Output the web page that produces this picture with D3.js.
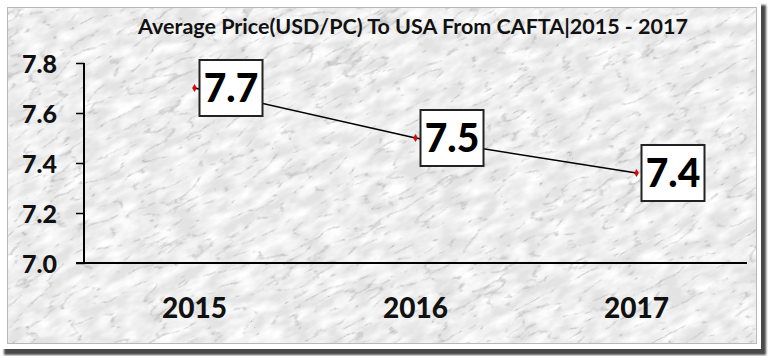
<!DOCTYPE html>
<html>
<head>
<meta charset="utf-8">
<script src="https://cdn.jsdelivr.net/npm/d3@7"></script>
<style>
html,body{margin:0;padding:0;background:#fff;}
svg{display:block;}
text{font-family:Lato,"Open Sans",sans-serif;}
</style>
</head>
<body>
<svg id="chart" width="768" height="356"></svg>
<script>
const years = ["2015", "2016", "2017"];
const prices = [7.7, 7.5, 7.36];
const yTicks = [7.0, 7.2, 7.4, 7.6, 7.8];
const title = "Average Price(USD/PC) To USA From CAFTA|2015 - 2017";

const svg = d3.select("#chart");
const defs = svg.append("defs");

// marble texture
const f = defs.append("filter").attr("id","marble")
  .attr("filterUnits","userSpaceOnUse")
  .attr("x",-300).attr("y",-400).attr("width",1400).attr("height",1200);
f.append("feTurbulence").attr("type","turbulence")
  .attr("baseFrequency","0.025 0.07").attr("numOctaves",5).attr("seed",11).attr("result","t");
f.append("feColorMatrix").attr("in","t").attr("type","matrix")
  .attr("values","0 0 0 0 0.38  0 0 0 0 0.38  0 0 0 0 0.41  -4.2 0 0 0 0.8").attr("result","veins");
f.append("feTurbulence").attr("type","fractalNoise")
  .attr("baseFrequency","0.04 0.09").attr("numOctaves",3).attr("seed",3).attr("result","n");
f.append("feColorMatrix").attr("in","n").attr("type","matrix")
  .attr("values","0 0 0 0 1  0 0 0 0 1  0 0 0 0 1  2.0 0 0 0 -0.6").attr("result","light");
f.append("feComposite").attr("in","light").attr("in2","SourceGraphic").attr("operator","over").attr("result","base");
f.append("feComposite").attr("in","veins").attr("in2","base").attr("operator","over");

const shadow = defs.append("filter").attr("id","sh").attr("x","-5%").attr("y","-5%").attr("width","110%").attr("height","110%");
shadow.append("feGaussianBlur").attr("stdDeviation",1.2);

defs.append("clipPath").attr("id","clipc").append("rect")
  .attr("x",8).attr("y",8).attr("width",748).attr("height",335);

// frame + shadow
svg.append("rect").attr("x",4).attr("y",5).attr("width",762).attr("height",350)
  .attr("fill","#4a4a4a").attr("filter","url(#sh)");
svg.append("rect").attr("x",0).attr("y",0).attr("width",761).attr("height",349).attr("fill","#fff");

// marble background
const bg = svg.append("g").attr("clip-path","url(#clipc)");
bg.append("g").attr("transform","rotate(-28 384 178)")
  .append("rect").attr("x",-200).attr("y",-300).attr("width",1200).attr("height",960)
  .attr("fill","#e3e3e3").attr("filter","url(#marble)");
svg.append("rect").attr("x",7.5).attr("y",7.5).attr("width",749).attr("height",336)
  .attr("fill","none").attr("stroke","#b8b8b8").attr("stroke-width",1);

const x = d3.scaleBand().domain(years).range([84, 747]);
const y = d3.scaleLinear().domain([7.0, 7.8]).range([263, 63]);

// title
svg.append("text").attr("x",413).attr("y",34).attr("text-anchor","middle")
  .attr("font-size",21.5).attr("font-weight",700).attr("fill","#111").text(title);

// y axis
const ya = svg.append("g").attr("transform","translate(84,0)")
  .call(d3.axisLeft(y).tickValues(yTicks).tickFormat(d3.format(".1f")).tickSize(8).tickPadding(19));
ya.select(".domain").attr("stroke","#000").attr("stroke-width",2).attr("d","M0,63V263");
ya.selectAll(".tick line").attr("stroke","#000").attr("stroke-width",1.5);
ya.selectAll(".tick text").attr("font-size",25).attr("font-weight",900).attr("fill","#111")
  .attr("font-family","Lato,sans-serif").attr("dy","0.36em");

// x axis
const xa = svg.append("g").attr("transform","translate(0,263)")
  .call(d3.axisBottom(x).tickSize(0).tickPadding(35));
xa.select(".domain").attr("stroke","#000").attr("stroke-width",2).attr("d","M76,0H747");
xa.selectAll(".tick text").attr("font-size",28).attr("font-weight",900).attr("fill","#111")
  .attr("font-family","Lato,sans-serif").attr("dy","0.72em");

const pts = years.map((d,i)=>({yr:d, v:prices[i]}));
const cx = d => x(d.yr) + x.bandwidth()/2;

svg.append("path").datum(pts)
  .attr("d", d3.line().x(cx).y(d=>y(d.v)))
  .attr("fill","none").attr("stroke","#000").attr("stroke-width",1.5);

svg.selectAll(".mk").data(pts).join("path").attr("class","mk")
  .attr("d", d3.symbol(d3.symbolDiamond, 14))
  .attr("transform", d=>`translate(${cx(d)},${y(d.v)})`)
  .attr("fill","#e00").attr("stroke","#900").attr("stroke-width",0.5);

const lab = svg.selectAll(".lab").data(pts).join("g").attr("class","lab")
  .attr("transform", d=>`translate(${cx(d)+5},${y(d.v)})`);
lab.append("rect").attr("x",0).attr("y",-28).attr("width",63).attr("height",56)
  .attr("fill","#fff").attr("stroke","#222").attr("stroke-width",2);
lab.append("text").attr("x",31.5).attr("y",0).attr("dy","0.36em").attr("text-anchor","middle")
  .attr("font-size",39).attr("font-weight",900).attr("fill","#000")
  .text(d=>d3.format(".1f")(d.v));
</script>
</body>
</html>
